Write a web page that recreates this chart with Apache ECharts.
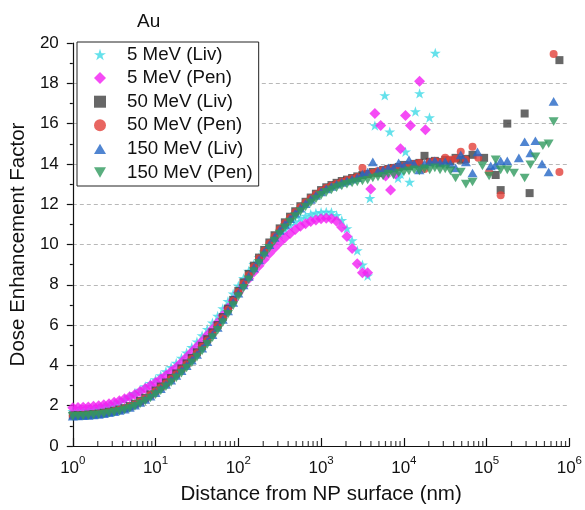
<!DOCTYPE html>
<html><head><meta charset="utf-8">
<script src="https://cdn.jsdelivr.net/npm/echarts@6/dist/echarts.min.js"></script>
<style>html,body{margin:0;padding:0;background:#fff}#c{width:585px;height:510px}</style>
</head><body><div id="c"></div>
<script>
// Distance from NP surface (nm), shared sampling positions
const distances = [1,1.155,1.334,1.54,1.778,2.054,2.371,2.738,3.162,3.652,4.217,4.87,5.623,6.494,7.499,8.66,
 10,11.55,13.34,15.4,17.78,20.54,23.71,27.38,31.62,36.52,42.17,48.7,56.23,64.94,74.99,86.6,
 100,115.5,133.4,154,177.8,205.4,237.1,273.8,316.2,365.2,421.7,487,562.3,649.4,749.9,866,
 1000,1155,1334,1540,1778,2054,2371,2738,3162,3652,4217,4870,5623,6494,7499,8660,
 10000,11550,13340,15400,17780,20540,23710,27380,31620,36520,42170,48700,56230];

const liv5 = [1.72,1.73,1.75,1.78,1.82,1.87,1.93,2.00,2.10,2.20,2.32,2.46,2.62,2.78,2.95,3.12,
 3.30,3.50,3.70,3.91,4.12,4.37,4.63,4.90,5.18,5.48,5.80,6.12,6.45,6.82,7.18,7.56,
 7.95,8.32,8.68,9.02,9.35,9.66,9.95,10.25,10.52,10.75,10.96,11.14,11.30,11.42,11.50,11.56,
 11.60,11.62,11.60,11.45,11.20,10.80,10.20,9.70,9.00,8.45];
const liv5Tail = [[3890,12.3],[4467,15.9],[5888,17.4],[6761,15.6],[8511,13.3],[9120,13.5],[10470,14.6],[11750,13.1],[13800,16.6],[15490,17.5],[20420,16.3],[23990,19.5]];

const pen5 = [1.90,1.91,1.92,1.94,1.97,2.00,2.05,2.10,2.17,2.25,2.34,2.44,2.56,2.70,2.85,3.00,
 3.15,3.32,3.50,3.70,3.90,4.14,4.40,4.66,4.92,5.20,5.50,5.80,6.12,6.48,6.85,7.22,
 7.60,7.95,8.30,8.63,8.95,9.25,9.55,9.83,10.10,10.33,10.55,10.74,10.90,11.03,11.14,11.22,
 11.28,11.30,11.28,11.15,10.85,10.40,9.80,9.05,8.60,8.60];
const pen5Tail = [[3981,12.75],[4467,16.5],[5248,15.9],[6026,13.4],[6918,12.7],[7943,13.5],[9120,14.75],[10470,16.4],[12020,15.9],[15490,18.1],[18200,15.7]];

const liv50 = [1.52,1.53,1.54,1.56,1.58,1.61,1.65,1.70,1.75,1.81,1.88,1.98,2.10,2.24,2.39,2.56,
 2.75,2.95,3.15,3.37,3.60,3.85,4.10,4.37,4.65,4.97,5.30,5.64,6.00,6.40,6.82,7.25,
 7.70,8.12,8.54,8.95,9.35,9.73,10.10,10.46,10.80,11.10,11.38,11.65,11.90,12.12,12.33,12.52,
 12.70,12.84,12.95,13.06,13.15,13.22,13.30,13.38,
 13.45,13.5,13.6,13.55,13.7,13.75,13.8,13.85,13.95,13.9,14.0,14.05,14.4,14.1,14.15,14.1,14.2,14.15,14.3,14.2,14.25];
const liv50Tail = [[67600,14.45],[93300,14.3],[128800,13.45],[147900,12.7],[177800,16.0],[288400,16.5],[331100,12.55],[758600,19.15]];

const pen50 = [1.50,1.51,1.52,1.54,1.56,1.59,1.63,1.68,1.73,1.79,1.86,1.95,2.06,2.20,2.35,2.52,
 2.70,2.90,3.10,3.32,3.55,3.80,4.05,4.32,4.60,4.92,5.24,5.58,5.95,6.34,6.76,7.20,
 7.64,8.06,8.48,8.90,9.30,9.68,10.05,10.40,10.75,11.05,11.33,11.60,11.85,12.08,12.30,12.48,
 12.66,12.80,12.92,13.02,13.12,13.20,13.28,13.35,
 13.8,13.5,13.55,13.65,13.7,13.75,13.8,13.85,13.9,13.95,14.0,14.05,13.75,14.1,14.15,14.1,14.3,14.2,14.25,14.6,14.2];
const pen50Tail = [[67600,14.85],[79400,14.3],[107200,13.6],[147900,12.45],[645700,19.45],[758600,13.6]];

const liv150 = [1.48,1.49,1.50,1.52,1.54,1.57,1.61,1.65,1.70,1.76,1.83,1.92,2.03,2.16,2.31,2.47,
 2.65,2.85,3.05,3.27,3.50,3.74,3.99,4.26,4.54,4.85,5.18,5.52,5.88,6.28,6.70,7.13,
 7.58,8.00,8.42,8.84,9.24,9.62,9.99,10.35,10.70,11.00,11.28,11.55,11.80,12.03,12.24,12.43,
 12.61,12.76,12.88,12.99,13.08,13.16,13.24,13.32,
 13.5,13.6,14.1,13.65,13.7,13.8,13.8,14.05,13.9,14.2,14.0,13.7,14.0,14.1,14.15,14.05,14.1,14.0,13.8,14.45,14.1];
const liv150Tail = [[67600,13.55],[77600,14.6],[112200,13.9],[128800,13.95],[147900,14.15],[177800,14.15],[245500,14.3],[288400,15.1],[338800,14.55],[389000,15.15],[467700,14.0],[562300,13.6],[645700,17.1]];

const pen150 = [1.47,1.48,1.49,1.51,1.53,1.55,1.59,1.63,1.67,1.72,1.79,1.87,1.97,2.09,2.23,2.38,
 2.55,2.74,2.94,3.15,3.38,3.62,3.87,4.13,4.41,4.72,5.04,5.38,5.74,6.13,6.54,6.97,
 7.41,7.83,8.25,8.66,9.06,9.44,9.81,10.17,10.52,10.83,11.11,11.38,11.63,11.86,12.07,12.26,
 12.44,12.59,12.71,12.82,12.91,12.99,13.06,13.11,
 13.15,13.2,13.3,13.35,13.4,13.5,13.45,13.55,13.6,13.65,13.7,13.65,13.75,13.7,13.8,13.7,13.75,13.65,13.3,13.6,13.0];
const pen150Tail = [[67600,13.1],[89100,13.9],[107200,13.4],[128800,14.2],[147900,13.7],[177800,13.7],[213800,13.55],[288400,13.3],[338800,13.96],[389000,14.35],[478600,14.9],[562300,15.0],[645700,16.1]];

const seriesNames = ['5 MeV (Liv)','5 MeV (Pen)','50 MeV (Liv)','50 MeV (Pen)','150 MeV (Liv)','150 MeV (Pen)'];
const yTicks = [0,2,4,6,8,10,12,14,16,18,20];

const FONT = 'Arial, "Liberation Sans", sans-serif';
const STAR = 'path://M50,0 L61.2,34.5 L97.6,34.5 L68.2,55.9 L79.4,90.5 L50,69.1 L20.6,90.5 L31.8,55.9 L2.4,34.5 L38.8,34.5 Z';
const TRI_UP = 'path://M50,0 L100,86.6 L0,86.6 Z';
const TRI_DOWN = 'path://M0,0 L100,0 L50,86.6 Z';

function build(vals, tail){
  return vals.map((v,i)=>[distances[i], v]).concat(tail);
}
const minorTicks = [];
for (let n=0;n<6;n++) for (let m=2;m<=9;m++) minorTicks.push([m*Math.pow(10,n),0]);

const chart = echarts.init(document.getElementById('c'), null, {renderer:'canvas'});
chart.setOption({
  animation:false,
  backgroundColor:'#fff',
  textStyle:{fontFamily:FONT},
  title:{text:'Au', left:132, top:7, textStyle:{fontFamily:FONT,fontSize:19,fontWeight:'normal',color:'#111'}},
  grid:{left:70,right:14,top:43,bottom:63},
  legend:{
    data:seriesNames, orient:'vertical', left:77, top:42,
    backgroundColor:'#fff', borderColor:'#222', borderWidth:1,
    padding:[3,6,4,17], itemWidth:12, itemHeight:12, itemGap:4.6, symbolKeepAspect:true,
    textStyle:{fontFamily:FONT,fontSize:18.7,color:'#111',padding:[0,0,0,16]}
  },
  xAxis:{
    type:'log', logBase:10, min:1, max:1000000,
    name:'Distance from NP surface (nm)', nameLocation:'middle', nameGap:38,
    nameTextStyle:{fontFamily:FONT,fontSize:20.5,color:'#111'},
    axisLine:{show:true,lineStyle:{color:'#111',width:1.2}},
    axisTick:{show:true,inside:true,length:8,lineStyle:{color:'#111',width:1.2}},
    splitLine:{show:false},
    axisLabel:{
      margin:9,
      formatter:v=>'{b|10}{s|'+Math.round(Math.log10(v))+'}',
      rich:{b:{fontFamily:FONT,fontSize:17,color:'#111',lineHeight:22,verticalAlign:'bottom'},
            s:{fontFamily:FONT,fontSize:11.5,color:'#111',lineHeight:12,verticalAlign:'top'}}
    }
  },
  yAxis:{
    type:'value', min:0, max:20, interval:2,
    name:'Dose Enhancement Factor', nameLocation:'middle', nameGap:41,
    nameTextStyle:{fontFamily:FONT,fontSize:20.5,color:'#111'},
    axisLine:{show:true,lineStyle:{color:'#111',width:1.2}},
    axisTick:{show:true,inside:false,length:6,lineStyle:{color:'#111',width:1.2}},
    minorTick:{show:true,splitNumber:2,length:3,lineStyle:{color:'#111',width:1.2}},
    splitLine:{show:true,showMinLine:false,showMaxLine:false,lineStyle:{color:'#b8b8b8',type:[4,3],width:1}},
    axisLabel:{margin:14,fontFamily:FONT,fontSize:17,color:'#111',
      formatter:v=>yTicks.indexOf(v)>=0?String(v):''}
  },
  series:[
    {name:seriesNames[0],type:'scatter',symbol:STAR,symbolSize:11,symbolKeepAspect:true,itemStyle:{color:'#3fd9e6'},data:build(liv5,liv5Tail)},
    {name:seriesNames[1],type:'scatter',symbol:'diamond',symbolSize:11,symbolKeepAspect:true,itemStyle:{color:'#f21ef2'},data:build(pen5,pen5Tail)},
    {name:seriesNames[2],type:'scatter',symbol:'rect',symbolSize:8,symbolKeepAspect:true,itemStyle:{color:'#414141'},data:build(liv50,liv50Tail)},
    {name:seriesNames[3],type:'scatter',symbol:'circle',symbolSize:8,symbolKeepAspect:true,itemStyle:{color:'#e2403a'},data:build(pen50,pen50Tail)},
    {name:seriesNames[4],type:'scatter',symbol:TRI_UP,symbolSize:10,symbolKeepAspect:true,itemStyle:{color:'#2466c6'},data:build(liv150,liv150Tail)},
    {name:seriesNames[5],type:'scatter',symbol:TRI_DOWN,symbolSize:10,symbolKeepAspect:true,itemStyle:{color:'#2f9a5e'},data:build(pen150,pen150Tail)},
    {name:'minorTicks',type:'scatter',symbol:'rect',symbolSize:[1.2,5],symbolOffset:[0,-2.5],clip:false,silent:true,
     itemStyle:{color:'#111'},data:minorTicks,z:10}
  ]
});
</script></body></html>
